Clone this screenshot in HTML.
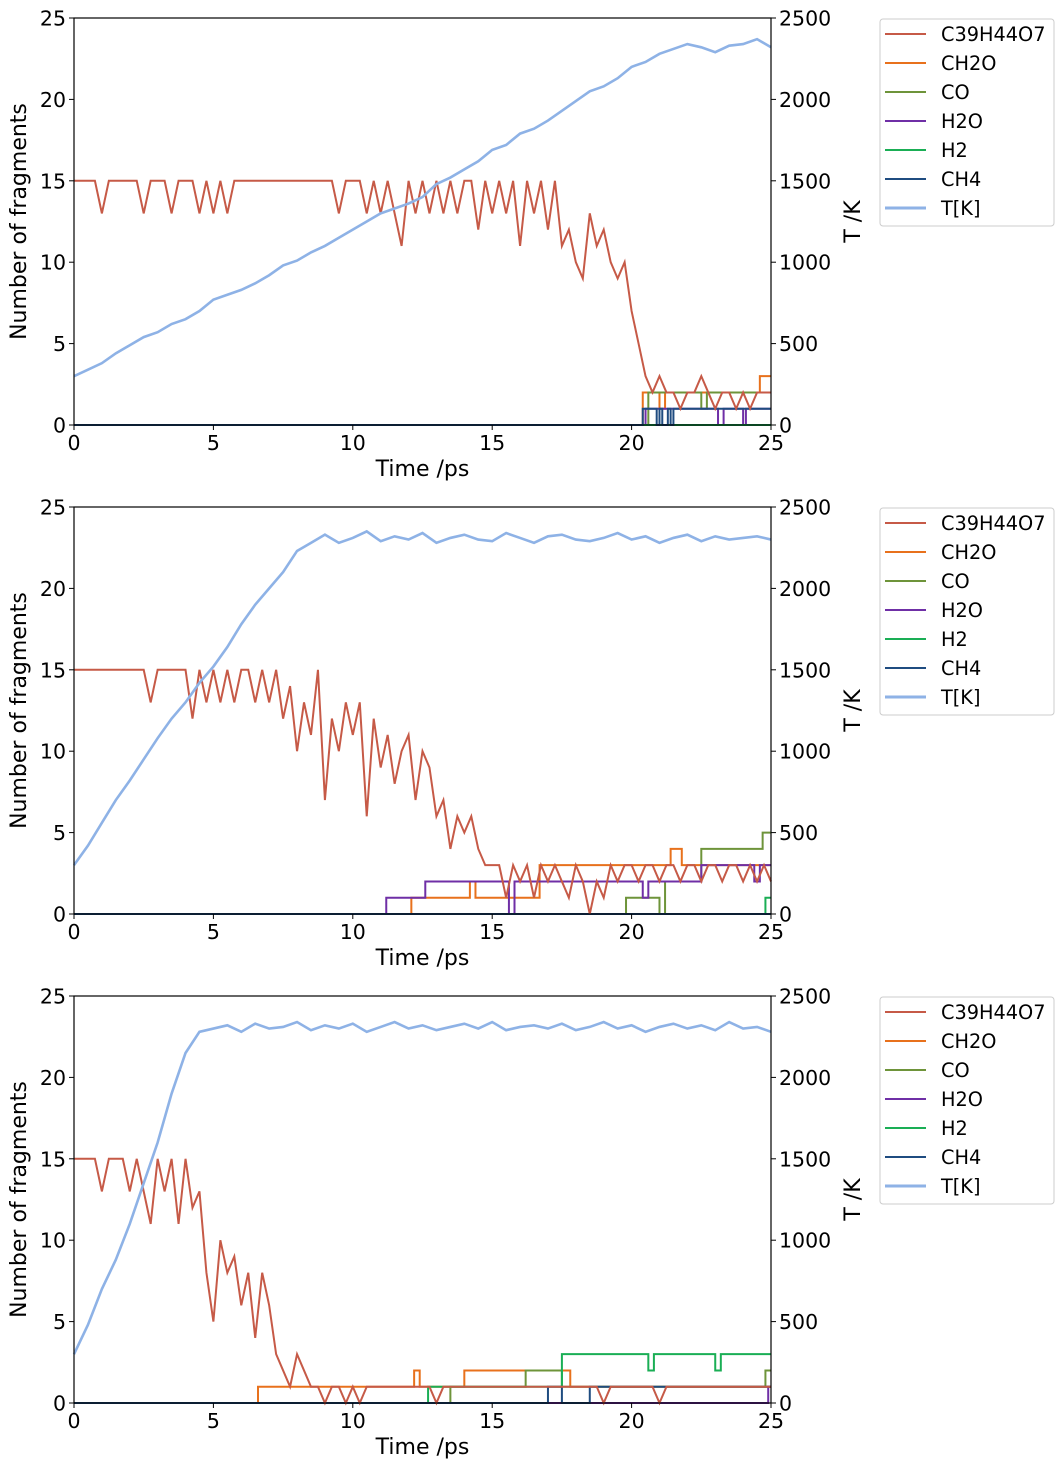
<!DOCTYPE html>
<html><head><meta charset="utf-8">
<style>
body{margin:0;background:#fff;}
svg{display:block;font-family:"DejaVu Sans","Liberation Sans",sans-serif;}
</style></head>
<body>
<svg id="fig" width="1063" height="1469" viewBox="0 0 1063 1469"></svg>
<script>
const xTicks = [0,5,10,15,20,25];
const yTicks = [0,5,10,15,20,25];
const tTicks = [0,500,1000,1500,2000,2500];
const speciesNames = ["C39H44O7","CH2O","CO","H2O","H2","CH4","T[K]"];
const speciesColors = ["#c65a47","#e8711c","#6e943a","#6f2fa6","#1aae55","#1f4c80","#8eb2e6"];

// Panel 1
const c39_1 = [15,15,15,15,13,15,15,15,15,15,13,15,15,15,13,15,15,15,13,15,13,15,13,15,15,15,15,15,15,15,15,15,15,15,15,15,15,15,13,15,15,15,13,15,13,15,13,11,15,13,15,13,15,13,15,13,15,15,12,15,13,15,13,15,11,15,13,15,12,15,11,12,10,9,13,11,12,10,9,10,7,5,3,2,3,2,2,1,2,2,3,2,1,2,2,1,2,1,2,2,2];
const temp_1 = [300,340,380,440,490,540,570,620,650,700,770,800,830,870,920,980,1010,1060,1100,1150,1200,1250,1300,1330,1360,1400,1480,1520,1570,1620,1690,1720,1790,1820,1870,1930,1990,2050,2080,2130,2200,2230,2280,2310,2340,2320,2290,2330,2340,2370,2320];
const ch2oT_1=[0,20.4,21.0,21.2,24.6], ch2oV_1=[0,2,1,2,3];
const coT_1=[0,20.6,22.5,22.7], coV_1=[0,2,1,2];
const h2oT_1=[0,20.5,23.1,23.3,24.0,24.1], h2oV_1=[0,1,0,1,0,1];
const h2T_1=[0], h2V_1=[0];
const ch4T_1=[0,20.4,20.9,21.0,21.1,21.3,21.4,21.5], ch4V_1=[0,1,0,1,0,1,0,1];

// Panel 2
const c39_2 = [15,15,15,15,15,15,15,15,15,15,15,13,15,15,15,15,15,12,15,13,15,13,15,13,15,15,13,15,13,15,12,14,10,13,11,15,7,12,10,13,11,13,6,12,9,11,8,10,11,7,10,9,6,7,4,6,5,6,4,3,3,3,1,3,2,3,1,3,2,3,2,1,3,2,0,2,1,3,2,3,3,2,3,3,2,3,3,2,3,3,2,3,3,2,3,3,2,3,2,3,2];
const temp_2 = [300,420,560,700,820,950,1080,1200,1300,1420,1520,1640,1780,1900,2000,2100,2230,2280,2330,2280,2310,2350,2290,2320,2300,2340,2280,2310,2330,2300,2290,2340,2310,2280,2320,2330,2300,2290,2310,2340,2300,2320,2280,2310,2330,2290,2320,2300,2310,2320,2300];
const ch2oT_2=[0,12.1,14.2,14.4,16.7,21.4,21.8], ch2oV_2=[0,1,2,1,3,4,3];
const coT_2=[0,19.8,21.0,21.2,22.5,24.7], coV_2=[0,1,0,2,4,5];
const h2oT_2=[0,11.2,12.6,15.6,15.8,20.4,20.6,22.5,24.4,24.6], h2oV_2=[0,1,2,0,2,1,2,3,2,3];
const h2T_2=[0,24.8], h2V_2=[0,1];
const ch4T_2=[0], ch4V_2=[0];

// Panel 3
const c39_3 = [15,15,15,15,13,15,15,15,13,15,13,11,15,13,15,11,15,12,13,8,5,10,8,9,6,8,4,8,6,3,2,1,3,2,1,1,0,1,1,0,1,0,1,1,1,1,1,1,1,1,1,1,0,1,1,1,1,1,1,1,1,1,1,1,1,1,1,1,1,1,1,1,1,1,1,1,0,1,1,1,1,1,1,1,0,1,1,1,1,1,1,1,1,1,1,1,1,1,1,1,1];
const temp_3 = [300,480,700,880,1100,1350,1600,1900,2150,2280,2300,2320,2280,2330,2300,2310,2340,2290,2320,2300,2330,2280,2310,2340,2300,2320,2290,2310,2330,2300,2340,2290,2310,2320,2300,2330,2290,2310,2340,2300,2320,2280,2310,2330,2300,2320,2290,2340,2300,2310,2280];
const ch2oT_3=[0,6.6,12.2,12.4,14.0,17.8], ch2oV_3=[0,1,2,1,2,1];
const coT_3=[0,13.5,16.2,17.5,24.8], coV_3=[0,1,2,1,2];
const h2oT_3=[0,24.9], h2oV_3=[0,1];
const h2T_3=[0,12.7,17.5,20.6,20.8,23.0,23.2], h2V_3=[0,1,3,2,3,2,3];
const ch4T_3=[0,17.0,17.5,18.5], ch4V_3=[0,1,0,1];

const panels = [
 {top:18, c39:c39_1, temp:temp_1, steps:[[ch2oT_1,ch2oV_1],[coT_1,coV_1],[h2oT_1,h2oV_1],[h2T_1,h2V_1],[ch4T_1,ch4V_1]]},
 {top:507, c39:c39_2, temp:temp_2, steps:[[ch2oT_2,ch2oV_2],[coT_2,coV_2],[h2oT_2,h2oV_2],[h2T_2,h2V_2],[ch4T_2,ch4V_2]]},
 {top:996, c39:c39_3, temp:temp_3, steps:[[ch2oT_3,ch2oV_3],[coT_3,coV_3],[h2oT_3,h2oV_3],[h2T_3,h2V_3],[ch4T_3,ch4V_3]]}
];

const NS="http://www.w3.org/2000/svg";
const svg=document.getElementById('fig');
const L=74,R=771,H=407;
function mk(tag,attrs,parent){const e=document.createElementNS(NS,tag);for(const k in attrs)e.setAttribute(k,attrs[k]);(parent||svg).appendChild(e);return e;}

panels.forEach((p,pi)=>{
 const top=p.top,bot=top+H;
 const g=mk('g',{});
 
 
 const x=t=>L+(R-L)*t/25;
 const y=v=>bot-H*v/25;
 const yT=v=>bot-H*v/2500;
 p.steps.forEach((s,si)=>{
  const [ts,vs]=s;let d='M'+x(ts[0])+','+y(vs[0]);
  for(let i=1;i<ts.length;i++){d+=' L'+x(ts[i])+','+y(vs[i-1])+' L'+x(ts[i])+','+y(vs[i]);}
  d+=' L'+x(25)+','+y(vs[vs.length-1]);
  const e=mk('path',{d:d,fill:'none',stroke:speciesColors[si+1],'stroke-width':2},g);
  
  
 });
 {let d='';const n=p.c39.length;p.c39.forEach((v,i)=>{d+=(i?' L':'M')+x(i*25/(n-1))+','+y(v);});
  const e=mk('path',{d:d,fill:'none',stroke:speciesColors[0],'stroke-width':2},g);
  
  }
 {let d='';const n=p.temp.length;p.temp.forEach((v,i)=>{d+=(i?' L':'M')+x(i*25/(n-1))+','+yT(v);});
  const e=mk('path',{d:d,fill:'none',stroke:speciesColors[6],'stroke-width':2.6},g);
  
  }
 const fr=mk('rect',{x:L,y:top,width:R-L,height:H,fill:'none',stroke:'#000','stroke-width':1.2},g);
 
 
 xTicks.forEach(t=>{mk('line',{x1:x(t),x2:x(t),y1:bot,y2:bot+5,stroke:'#000'},g);
  const tx=mk('text',{x:x(t),y:bot+25,'text-anchor':'middle','font-size':20.5},g);tx.textContent=t;
  
  });
 yTicks.forEach(t=>{mk('line',{x1:L-5,x2:L,y1:y(t),y2:y(t),stroke:'#000'},g);
  const tx=mk('text',{x:L-8,y:y(t)+7.5,'text-anchor':'end','font-size':20.5},g);tx.textContent=t;
  
  });
 tTicks.forEach(t=>{mk('line',{x1:R,x2:R+5,y1:yT(t),y2:yT(t),stroke:'#000'},g);
  const tx=mk('text',{x:R+8,y:yT(t)+7.5,'font-size':20.5},g);tx.textContent=t;
  
  });
 const xl=mk('text',{x:(L+R)/2,y:bot+51,'text-anchor':'middle','font-size':22},g);xl.textContent='Time /ps';
 
 
 const yl=mk('text',{x:0,y:0,'text-anchor':'middle','font-size':22,transform:'translate(26,'+(top+H/2)+') rotate(-90)'},g);yl.textContent='Number of fragments';
 
 
 const y2=mk('text',{x:0,y:0,'text-anchor':'middle','font-size':22,transform:'translate(860,'+(top+H/2)+') rotate(-90)'},g);y2.textContent='T /K';
 
 
 const lg=mk('g',{},g);
 
 
 mk('rect',{x:880,y:top+1,width:174,height:207,rx:3,fill:'#fff',stroke:'#ccc','stroke-width':1},lg);
 speciesNames.forEach((nm,i)=>{const yy=top+16+i*29;
  const ln=mk('line',{x1:885,x2:926,y1:yy,y2:yy,stroke:speciesColors[i],'stroke-width':i==6?3:2},lg);
  
  
  const tx=mk('text',{x:941,y:yy+7,'font-size':19.3},lg);tx.textContent=nm;
  
  });
});
</script>
</body></html>
